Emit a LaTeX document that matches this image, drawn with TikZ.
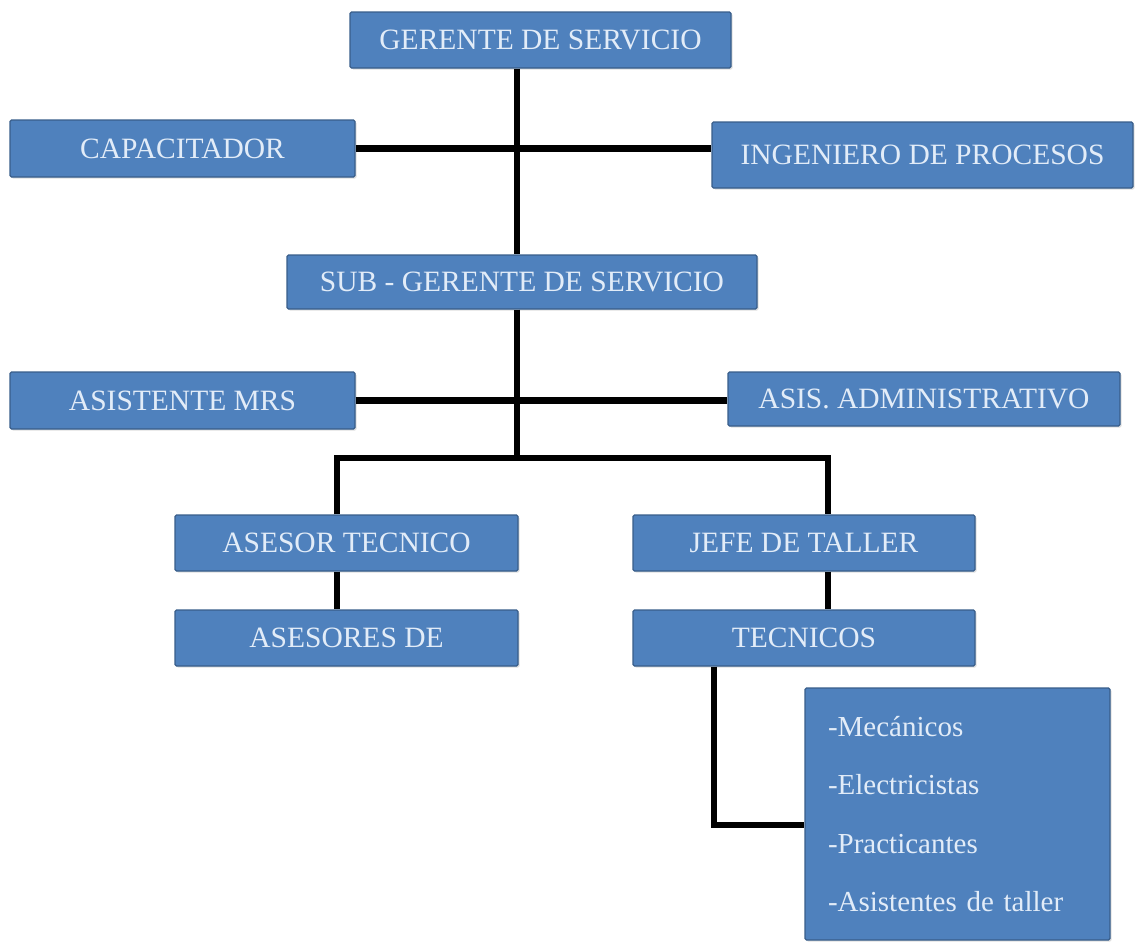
\documentclass[tikz,border=0pt]{standalone}
\usepackage{fontspec}
\setmainfont{Liberation Serif}
\usetikzlibrary{shadows}
\definecolor{cajaazul}{RGB}{79,129,189}
\definecolor{bordeazul}{RGB}{56,93,138}
\definecolor{textoclaro}{RGB}{226,236,248}

\begin{document}
\begin{tikzpicture}[x=1pt, y=-1pt]
        \tikzset{cargo/.style={
            draw = bordeazul,
            fill = cajaazul,
            line width = 1.2pt,
            rounded corners = 1.5pt,
            text = textoclaro,
            inner sep = 0pt,
            font = \fontsize{29.5}{34}\selectfont,
            drop shadow = {shadow xshift=1.5pt, shadow yshift=-1.5pt, opacity=0.25},
            %
            minimum width = #1,
        }}
        \tikzset{link/.style={
            line width = 6.5pt,
            black,
            line join = miter
        }}
        \useasboundingbox (0,0) rectangle (1135,943);

        \node[cargo = 381pt, minimum height = 56pt] (gerente) at (540.5, 40) {GERENTE DE SERVICIO};
        \node[cargo = 345pt, minimum height = 57pt] (capacitador) at (182.5, 148.5) {CAPACITADOR};
        \node[cargo = 421pt, minimum height = 66pt] (ingeniero) at (922.5, 155) {INGENIERO DE PROCESOS};
        \node[cargo = 470pt, minimum height = 54pt] (subgerente) at (522, 282) {SUB - GERENTE DE SERVICIO};
        \node[cargo = 345pt, minimum height = 57pt] (asistente) at (182.5, 400.5) {ASISTENTE MRS};
        \node[cargo = 392pt, minimum height = 54pt] (administrativo) at (924, 399) {ASIS. ADMINISTRATIVO};
        \node[cargo = 343pt, minimum height = 56pt] (asesor) at (346.5, 543) {ASESOR TECNICO};
        \node[cargo = 342pt, minimum height = 56pt] (jefe) at (804, 543) {JEFE DE TALLER};
        \node[cargo = 343pt, minimum height = 56pt] (asesores) at (346.5, 638) {ASESORES DE};
        \node[cargo = 342pt, minimum height = 56pt] (tecnicos) at (804, 638) {TECNICOS};
        \node[cargo = 305pt, minimum height = 252pt, text width = 259pt, align = left,
              font = \fontsize{29}{58.5}\selectfont] (lista) at (957.5, 814)
              {-Mecánicos\\-Electricistas\\-Practicantes\\-Asistentes de taller};

        \coordinate (tronco) at (517, 150);
        \coordinate (rama) at (517, 458);
        \coordinate (izq) at (337, 458);
        \coordinate (der) at (828, 458);
        \coordinate (baja) at (714, 825);

        \draw[link] (gerente.south -| tronco) -- (subgerente.north -| tronco);
        \draw[link] (capacitador.east) -- (capacitador.east -| ingeniero.west);
        \draw[link] (subgerente.south -| tronco) -- (rama);
        \draw[link] (asistente.east) -- (asistente.east -| administrativo.west);
        \draw[link] (asesor.north -| izq) -- (izq) -- (der) -- (jefe.north -| der);
        \draw[link] (asesor.south -| izq) -- (asesores.north -| izq);
        \draw[link] (jefe.south -| der) -- (tecnicos.north -| der);
        \draw[link] (tecnicos.south -| baja) -- (baja) -- (lista.west |- baja);
    \end{tikzpicture}
\end{document}
